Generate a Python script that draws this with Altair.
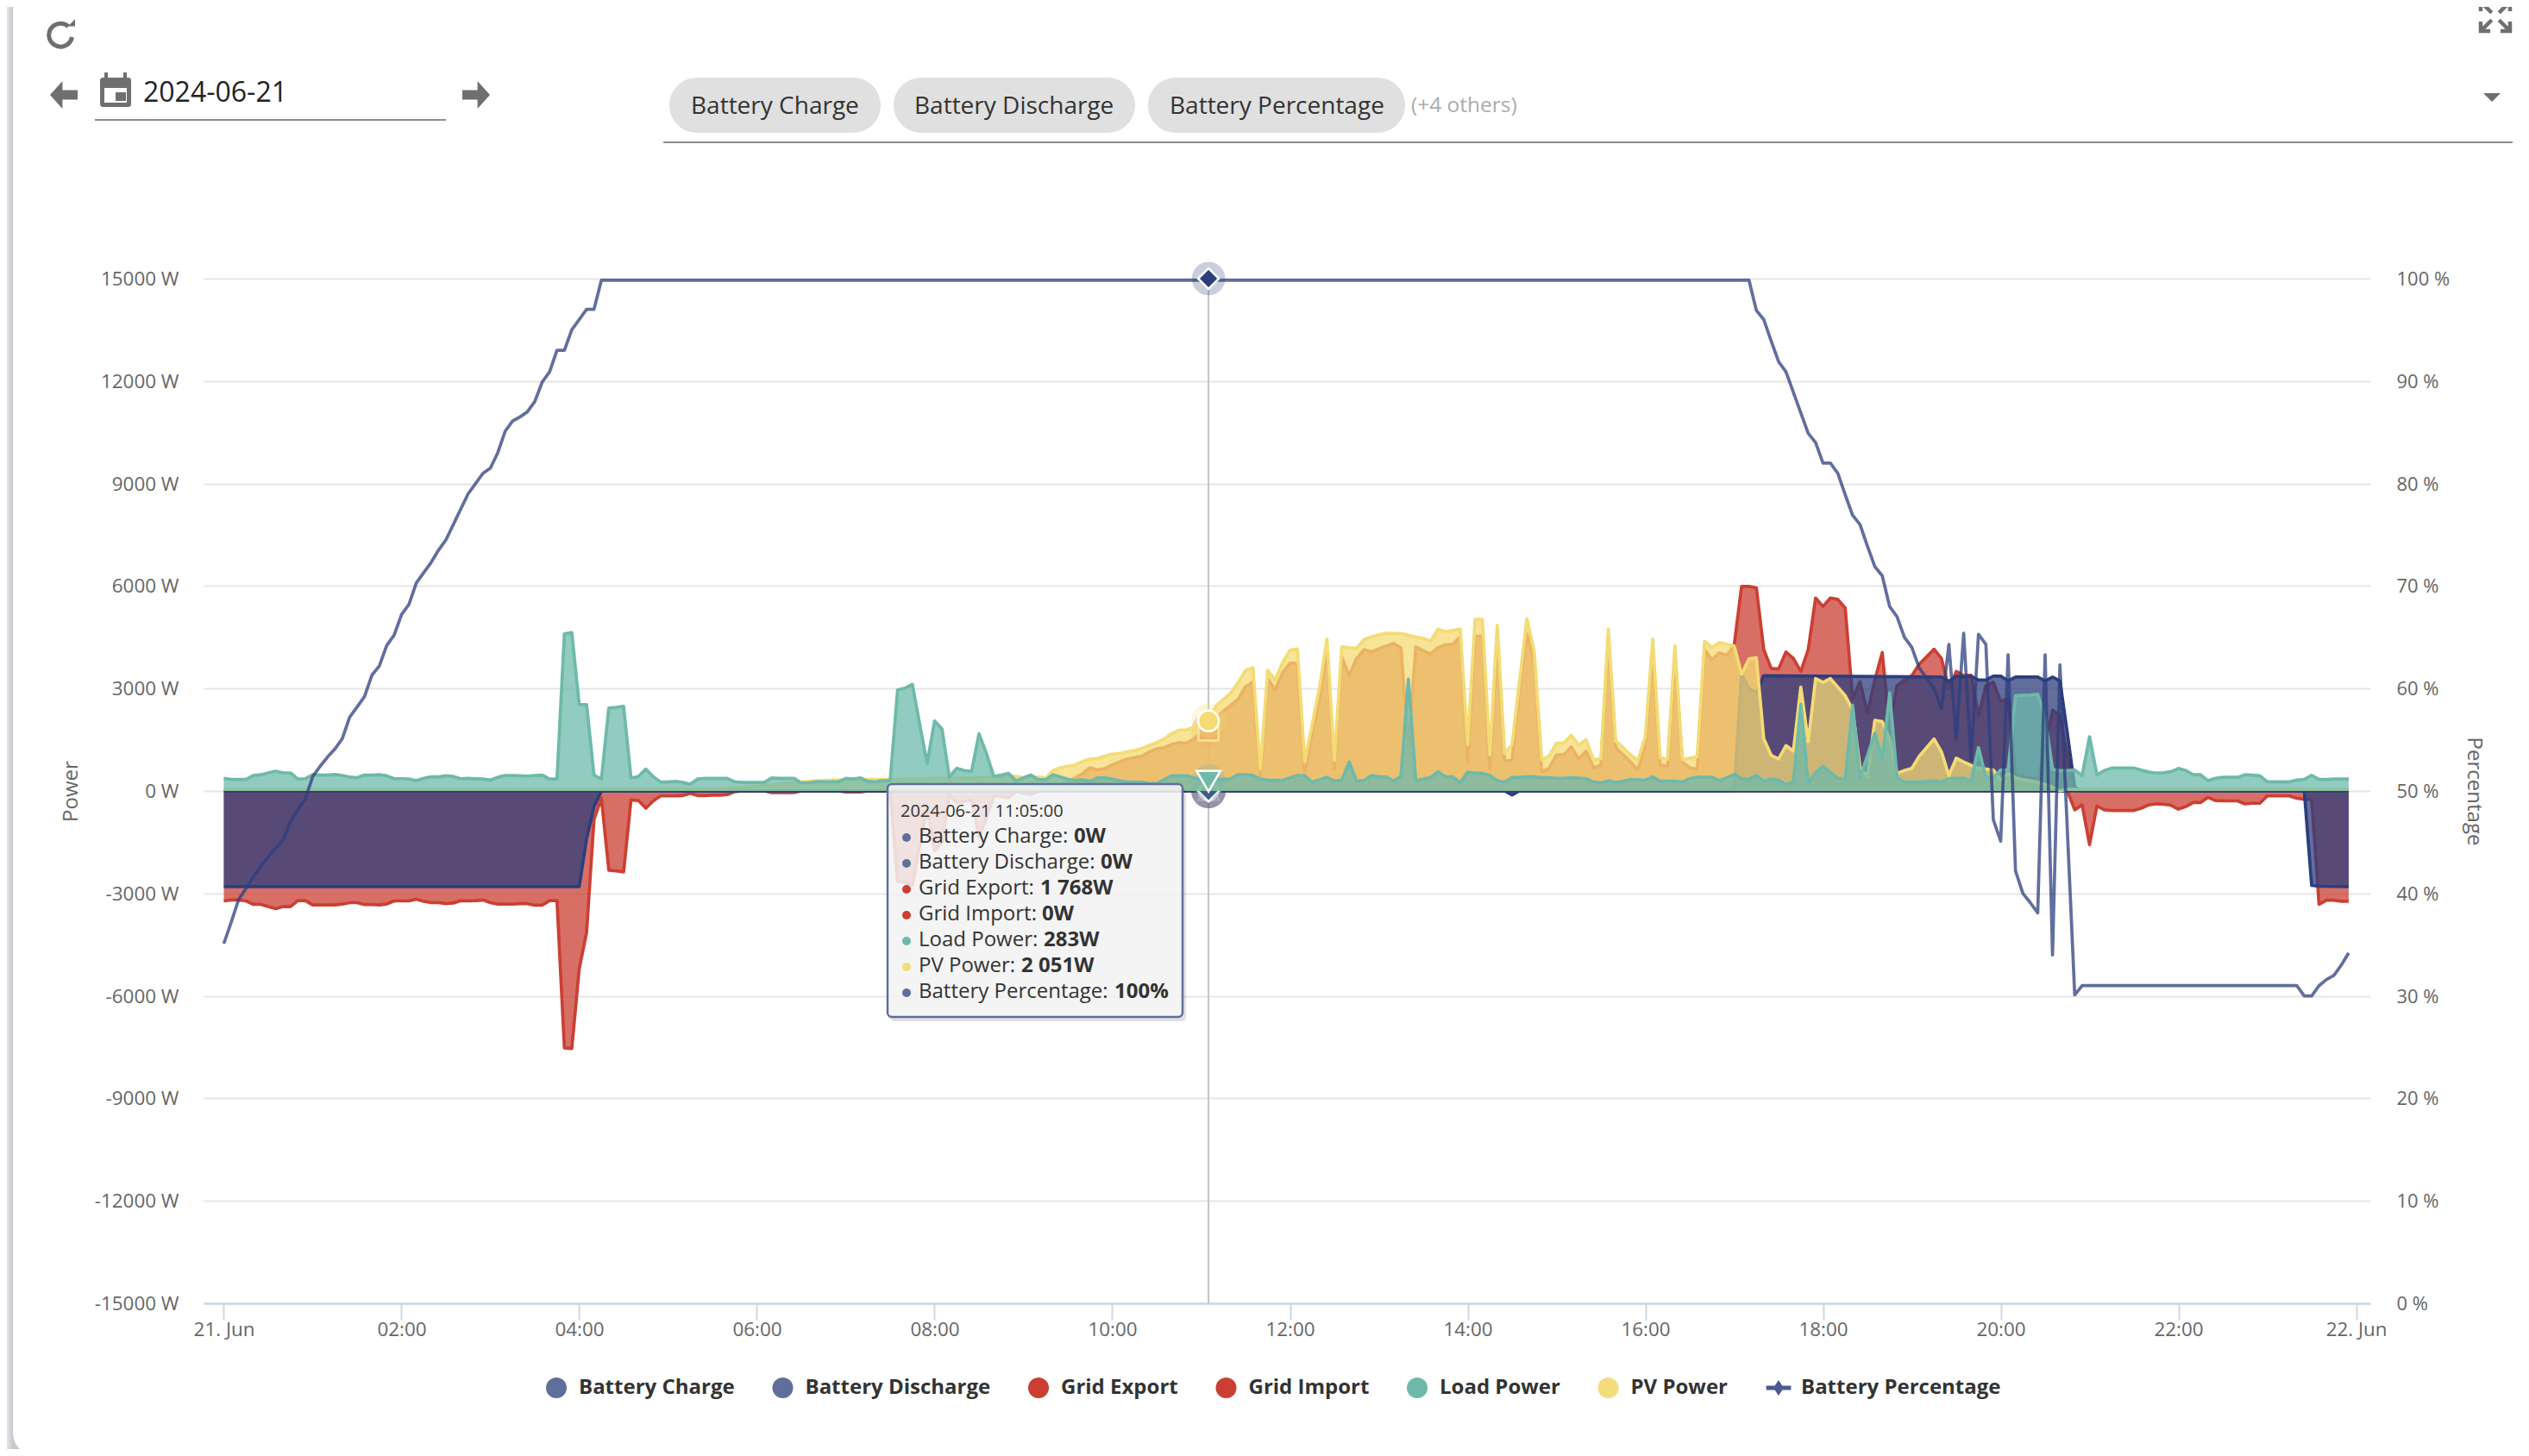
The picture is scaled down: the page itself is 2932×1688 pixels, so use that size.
import altair as alt

FONT = "Open Sans"
DAY0 = 1718928000000  # 2024-06-21 00:00 UTC
STEP = 300000  # five minutes

SERIES = ["Battery Charge", "Battery Discharge", "Grid Export", "Grid Import", "Load Power", "PV Power", "Battery Percentage"]
LEGEND_COLORS = ["#5F6F9B", "#5F6F9B", "#CB3F33", "#CB3F33", "#6EB9AA", "#F3DC7C", "#4A5B92"]
BATTERY = "#2C3E7D"
RED = "#CB3F33"
TEAL = "#6EB9AA"
YELLOW = "#F4DB74"

LOAD = [370,340,340,340,455,475,530,580,530,530,350,360,475,465,465,485,455,405,390,465,465,475,445,360,360,350,300,370,415,415,
445,425,360,370,360,350,320,400,455,455,445,435,455,465,350,350,4600,4640,2530,2530,465,350,2430,2450,2480,380,420,640,420,260,
260,280,250,200,350,370,370,370,370,270,250,250,250,250,380,370,370,370,240,240,270,270,270,270,370,350,380,280,270,300,
300,2960,3010,3120,1950,810,2050,1820,410,665,600,570,1675,1100,430,463,515,295,387,470,330,330,480,412,345,300,330,280,380,387,
345,300,260,260,260,220,220,330,445,445,445,390,330,283,345,345,360,480,480,455,345,320,310,310,387,455,446,260,330,404,
286,320,850,300,300,455,412,412,295,430,3275,300,345,395,570,412,412,245,555,515,520,455,303,260,395,404,412,412,387,387,
370,370,387,378,360,260,235,300,245,286,336,328,320,412,286,286,286,260,362,404,404,404,303,387,488,362,345,455,286,354,
311,194,260,2534,219,539,724,539,370,345,2510,387,1035,1692,935,2870,387,260,260,260,278,295,260,360,370,370,286,1270,387,387,
615,615,2785,2800,2810,2830,2155,640,600,600,615,455,1590,470,600,670,670,670,670,610,553,525,533,563,660,600,475,475,300,370,
400,400,400,475,465,445,270,270,270,270,320,340,455,340,340,350,350,350]

IMPORT_SLOTS = list(range(0, 111)) + [249] + list(range(250, 288))
IMPORT = [-3220,-3190,-3190,-3220,-3320,-3320,-3385,-3445,-3385,-3385,-3210,-3210,-3335,-3335,-3335,-3335,-3310,-3270,-3270,-3325,
-3325,-3335,-3310,-3220,-3220,-3220,-3170,-3230,-3270,-3270,-3300,-3280,-3210,-3220,-3210,-3190,-3270,-3310,-3310,-3310,-3300,-3300,-3345,-3345,-3210,-3210,
-7520,-7540,-5210,-4140,-840,-210,-2320,-2340,-2370,-260,-280,-505,-290,-145,-145,-145,-135,-70,-135,-135,-125,-125,-105,-20,
0,0,0,0,-50,-50,-50,-50,0,0,0,0,0,0,-30,-30,-30,0,0,0,0,-2650,-2680,-2770,-1600,-500,-1750,-1500,-120,-350,-300,-250,-1350,-800,-150,-150,-200,-20,-60,-100,0,
0,-553,-407,-1570,-436,-553,-570,-570,-570,-570,-504,-407,-378,-388,-417,-533,-456,-340,-340,-185,-280,-290,-290,-290,-378,-360,-360,-145,-145,-145,-145,-213,-242,-240,-3320,-3200,-3200,-3230,-3230,-3220]

EXPORT_SLOTS = [0, 112] + list(range(113, 251)) + [287]
EXPORT = [0,0,120,250,385,510,680,615,657,766,850,935,975,1020,1145,1230,1270,1355,1415,1400,1524,1692,1768,2150,2335,2510,2685,3050,3190,390,
3290,2955,3460,3740,3740,510,1685,2710,4090,640,3920,3375,3880,4135,4075,4160,4245,4320,4190,1280,4220,4110,4010,4200,4280,4300,4510,850,4530,4530,
640,4470,870,910,2950,4600,3800,555,665,1060,1060,1290,935,1170,680,750,4440,1270,1060,850,615,1350,4050,765,725,3880,850,680,640,4135,
3840,4050,3965,4260,5987,5987,5945,4135,3590,3570,4070,3880,3500,4135,5650,5400,5650,5610,5355,2700,3200,2280,3250,4050,1860,3080,3250,3375,3710,3930,
4150,3880,3000,3500,3375,3390,2200,3080,3190,2620,2700,510,430,390,345,1270,2365,2200,1020,0,0]

PV_SLOTS = [0, 66, 70, 75, 80, 85, 90, 104] + list(range(107, 249)) + [249, 287]
PV = [50,50,100,200,300,340,340,400,430,390,420,410,380,600,680,725,765,870,935,950,1020,1078,1100,1145,1187,1246,1330,1415,1524,1676,
1777,1793,1860,2030,2051,2492,2680,2870,3165,3530,3610,640,3530,3250,3755,4120,4160,850,1945,3040,4450,890,4220,4190,4175,4430,4510,4570,4620,4615,
4615,4555,4510,4470,4390,4740,4665,4700,4740,1355,5020,5020,1060,4850,1100,1355,3200,5045,4090,910,1020,1400,1400,1635,1340,1500,910,950,4740,1455,
1270,1060,890,1600,4445,977,935,4245,918,960,1000,4387,4200,4345,4300,4245,3420,3865,3900,1525,1045,935,1330,1170,3040,1440,3290,3180,3290,3040,
2790,2370,680,430,2070,2030,1525,515,600,665,1020,1270,1525,1145,455,960,850,750,665,640,615,330,515,385,330,300,260,195,110,10,50,50]

CHARGE_SLOTS = [0, 48, 49, 50, 51, 173, 174, 175, 281, 282, 283, 287]
CHARGE = [-2800,-2800,-1400,-460,0,0,-120,0,0,-2765,-2790,-2800]

DISCHARGE_SLOTS = [0, 204, 205, 206, 207, 208, 232, 233, 234, 235, 236, 237, 238, 239, 240, 241, 242, 245, 246, 247, 248, 249, 250, 251, 287]
DISCHARGE = [0,0,3420,3000,2870,3376,3335,3210,3360,3335,3360,3250,3250,3360,3360,3225,3335,3335,3225,3335,3225,1700,100,0,0]

PCT = [35.1,37.2,39.4,40.5,41.6,42.65,43.6,44.4,45.2,47.0,48.2,49.2,51.4,52.4,53.3,54.1,55.1,57.2,58.2,59.2,61.3,62.2,64.2,65.2,67.2,68.2,70.3,71.3,72.3,73.5,
74.5,76,77.5,79,80,81,81.5,83,85.1,86.1,86.5,87,88,89.9,90.9,93,93,95,96,97,97,99.85]
PCT_SLOTS = list(range(0, 52)) + [206, 207, 208, 209, 210, 211, 212, 213, 214, 215, 216, 217, 218, 219, 220, 221, 222, 223, 224, 225, 226, 227, 228, 229, 230, 231, 232, 233, 234, 235, 236, 237, 238, 239, 240, 241, 242, 243, 244, 245, 246, 247, 248, 250, 251, 280, 281, 282, 283, 284, 285, 286, 287]
PCT = PCT + [99.85,96.9,96,93.9,91.9,90.9,88.9,86.9,84.9,84,82,82,81,78.9,76.9,76,73.9,71.9,71,68,67,65,64,62,61,60,58,64.3,55.1,65.4,53,65.3,64.3,47.2,45.1,63.3,42.2,40,39.1,38.1,63.3,34,62.3,30.1,31,31,30,30,31,31.6,32,33,34.2]

TOOLTIP_HEAD = "2024-06-21 11:05:00"
TOOLTIP_NAMES = ["Battery Charge: ", "Battery Discharge: ", "Grid Export: ", "Grid Import: ", "Load Power: ", "PV Power: ", "Battery Percentage: "]
TOOLTIP_VALUES = ["0W", "0W", "1 768W", "0W", "283W", "2 051W", "100%"]
TOOLTIP_COLORS = ["#5F6F9B", "#5F6F9B", "#CB3F33", "#CB3F33", "#6EB9AA", "#F3DC7C", "#5F6F9B"]
HOVER_SLOT = 133

WIDTH, HEIGHT = 2512, 1188
PAD_L, PAD_T = 228, 315
TOTAL_W, TOTAL_H = 2916, 1672


def vx(px):
    return px - 8 - PAD_L


def vy(py):
    return py - 8 - PAD_T


ONE = alt.Data(values=[{"a": 1}])


def ms(slot):
    return DAY0 + slot * STEP


def frame(slots, values):
    return alt.Data(values=[{"t": ms(s), "v": v} for s, v in zip(slots, values)])


x_scale = alt.Scale(type="utc", domain=[DAY0 - 820800, DAY0 + 86976000], nice=False)
x_axis = alt.Axis(
    values=[DAY0 + h * 3600000 for h in range(0, 25, 2)],
    labelExpr="utchours(datum.value)==0 ? utcFormat(datum.value,'%d. %b') : utcFormat(datum.value,'%H:%M')",
    title=None, grid=False, tickSize=19, tickWidth=2, tickColor="#ccd6eb", domainColor="#ccd6eb", domainWidth=2.5,
    labelFont=FONT, labelFontSize=22.4, labelColor="#666666", labelPadding=0, labelOverlap=False, labelFlush=False, labelBaseline="top",
)
X = alt.X("t:T", scale=x_scale, axis=x_axis)

power_axis = alt.Axis(
    values=list(range(-15000, 15001, 3000)), labelExpr="datum.value + ' W'", title="Power", titleAngle=270, titleX=-154, titleY=594,
    titleFont=FONT, titleFontSize=24, titleFontWeight="normal", titleColor="#666666", titleAlign="center", titleBaseline="middle",
    grid=True, gridColor="#e6e6e6", gridWidth=2, domain=False, ticks=False, labelFont=FONT, labelFontSize=22.4, labelColor="#666666",
    labelPadding=29, labelOffset=0.5,
)
Y = alt.Y("v:Q", scale=alt.Scale(domain=[-15000, 15000], nice=False), axis=power_axis, stack=None)

pct_axis = alt.Axis(
    orient="right", values=list(range(0, 101, 10)), labelExpr="datum.value + ' %'", title="Percentage", titleAngle=90, titleX=119, titleY=594,
    titleFont=FONT, titleFontSize=24, titleFontWeight="normal", titleColor="#666666", titleAlign="center", titleBaseline="middle",
    grid=False, domain=False, ticks=False, labelFont=FONT, labelFontSize=22, labelColor="#666666", labelPadding=30, labelOffset=0.5,
)
Y_PCT = alt.Y("v:Q", scale=alt.Scale(domain=[0, 100], nice=False), axis=pct_axis)


def area(slots, values, color):
    d = frame(slots, values)
    return [
        alt.Chart(d).mark_area(color=color, opacity=0.75).encode(x=X, y=Y),
        alt.Chart(d).mark_line(color=color, strokeWidth=3.7, strokeJoin="round").encode(x=X, y=Y),
    ]


def marker(value, shape, color, size=576):
    d = frame([HOVER_SLOT], [value])
    return [
        alt.Chart(d).mark_point(shape="circle", filled=True, color=color, size=1600, opacity=0.25, strokeWidth=0).encode(x=X, y=Y),
        alt.Chart(d).mark_point(shape=shape, filled=True, fill=color, stroke="#ffffff", strokeWidth=2.5, size=size, opacity=1).encode(x=X, y=Y),
    ]


crosshair = alt.Chart(frame([HOVER_SLOT], [0])).mark_rule(color="#c4c4c4", strokeWidth=2).encode(x=X)

power_layers = [crosshair]
power_layers += area(EXPORT_SLOTS, EXPORT, RED) + marker(1768, "square", RED, 530)
power_layers += area(IMPORT_SLOTS, IMPORT, RED) + marker(0, "triangle-up", RED, 576)
power_layers += area(CHARGE_SLOTS, CHARGE, BATTERY) + marker(0, "circle", BATTERY, 500)
power_layers += area(DISCHARGE_SLOTS, DISCHARGE, BATTERY) + marker(0, "diamond", BATTERY, 600)
power_layers += area(PV_SLOTS, PV, YELLOW) + marker(2051, "circle", YELLOW, 576)
power_layers += area(list(range(288)), LOAD, TEAL) + marker(283, "triangle-down", TEAL, 760)
power = alt.layer(*power_layers)

pct_data = frame(PCT_SLOTS, PCT)
pct_hover = frame([HOVER_SLOT], [100])
pct = alt.layer(
    alt.Chart(pct_data).mark_line(color=BATTERY, strokeWidth=3.7, opacity=0.75, strokeJoin="round").encode(x=X, y=Y_PCT),
    alt.Chart(pct_hover).mark_point(shape="circle", filled=True, color=BATTERY, size=1500, opacity=0.25, strokeWidth=0).encode(x=X, y=Y_PCT),
    alt.Chart(pct_hover).mark_point(shape="diamond", filled=True, fill=BATTERY, stroke="#ffffff", strokeWidth=2.5, size=576, opacity=1).encode(x=X, y=Y_PCT),
)


def txt(s, x, y, size, color, weight="normal", align="left"):
    return alt.Chart(ONE).mark_text(text=s, font=FONT, fontSize=size, color=color, fontWeight=weight, align=align, baseline="middle").encode(
        x=alt.value(vx(x)), y=alt.value(vy(y)))


def box(x1, y1, x2, y2, color, **kw):
    return alt.Chart(ONE).mark_rect(color=color, **kw).encode(
        x=alt.value(vx(x1)), x2=alt.value(vx(x2)), y=alt.value(vy(y1)), y2=alt.value(vy(y2)))


def glyph(path, x, y, span, color, filled=True, width=0):
    kw = {"fill": color} if filled else {"stroke": color, "strokeWidth": width, "fillOpacity": 0}
    return alt.Chart(ONE).mark_point(shape=path, filled=filled, size=span * span, opacity=1, **kw).encode(
        x=alt.value(vx(x)), y=alt.value(vy(y)))


GRAY = "#6f6f6f"
ARROW_L = "M-1,0 L-0.1,-1 L-0.1,-0.35 L1,-0.35 L1,0.35 L-0.1,0.35 L-0.1,1 Z"
ARROW_R = "M1,0 L0.1,-1 L0.1,-0.35 L-1,-0.35 L-1,0.35 L0.1,0.35 L0.1,1 Z"
REFRESH = "M0.62,-0.62 A0.9,0.9 0 1 0 0.9,0.2"
REFRESH_HEAD = "M1,-1 L1,-0.05 L0.1,-0.05 Z"
EXPAND = ("M-1,-0.35 L-1,-1 L-0.35,-1 M-1,-1 L-0.25,-0.25 M1,-0.35 L1,-1 L0.35,-1 M1,-1 L0.25,-0.25 "
          "M-1,0.35 L-1,1 L-0.35,1 M-1,1 L-0.25,0.25 M1,0.35 L1,1 L0.35,1 M1,1 L0.25,0.25")
CARET = "M-1,-0.5 L1,-0.5 L0,0.5 Z"

page = [
    alt.Chart(ONE).mark_rect(color=alt.Gradient(gradient="linear", x1=0, x2=1, y1=0, y2=0, stops=[
        alt.GradientStop(color="#e4e5ea", offset=0), alt.GradientStop(color="#c4c6cc", offset=1)])).encode(
        x=alt.value(vx(8)), x2=alt.value(vx(15)), y=alt.value(vy(8)), y2=alt.value(vy(1680))),
    box(15, 1640, 60, 1680, "#c9cace"),
    box(15, 1630, 70, 1688, "#ffffff", cornerRadiusBottomLeft=30),
    glyph(REFRESH, 70, 40, 30, GRAY, False, 5),
    glyph(REFRESH_HEAD, 78, 31, 18, GRAY),
    glyph(ARROW_L, 74, 110, 32, GRAY),
    glyph(ARROW_R, 552, 110, 32, GRAY),
    box(116, 90, 152, 124, GRAY, cornerRadius=3),
    box(121, 84, 125, 92, GRAY),
    box(143, 84, 147, 92, GRAY),
    box(121, 102, 147, 119, "#ffffff"),
    box(134, 107, 146, 117, GRAY),
    txt("2024-06-21", 166, 108, 32, "#222222"),
    box(110, 138, 517, 140, "#8c8c8c"),
    box(776, 90, 1021, 154, "#e0e0e0", cornerRadius=32),
    box(1036, 90, 1316, 154, "#e0e0e0", cornerRadius=32),
    box(1331, 90, 1629, 154, "#e0e0e0", cornerRadius=32),
    txt("Battery Charge", 801, 124, 28, "#333333"),
    txt("Battery Discharge", 1060, 124, 28, "#333333"),
    txt("Battery Percentage", 1356, 124, 28, "#333333"),
    txt("(+4 others)", 1636, 123, 24.5, "#ababab"),
    box(769, 164, 2913, 166, "#8c8c8c"),
    glyph(CARET, 2889, 113, 20, GRAY),
    glyph(EXPAND, 2893, 19, 34, GRAY, False, 4.5),
]

legend_spec = alt.Legend(
    orient="none", legendX=vx(633), legendY=vy(1597), title=None, columns=7, symbolSize=576, symbolOpacity=1, symbolStrokeWidth=0,
    labelFont=FONT, labelFontSize=24, labelFontWeight="bold", labelColor="#333333", labelOffset=14, columnPadding=43.5, labelLimit=400,
)
legend_layer = alt.Chart(alt.Data(values=[{"series": s} for s in SERIES])).mark_point(filled=True, opacity=0).encode(
    x=alt.value(0), y=alt.value(0),
    color=alt.Color("series:N", sort=SERIES, scale=alt.Scale(domain=SERIES, range=LEGEND_COLORS), legend=legend_spec),
    shape=alt.Shape("series:N", sort=SERIES, legend=legend_spec, scale=alt.Scale(domain=SERIES, range=[
        "circle", "circle", "circle", "circle", "circle", "circle",
        "M-1.2,-0.2 L1.2,-0.2 L1.2,0.2 L-1.2,0.2 Z M0,-0.75 L0.5,0 L0,0.75 L-0.5,0 Z"])),
)

tooltip = [
    box(1032, 914, 1375, 1184, "#000000", opacity=0.12, cornerRadius=5),
    alt.Chart(ONE).mark_rect(fill="#f7f7f7", fillOpacity=0.86, stroke="#5F6F9B", strokeWidth=2.5, cornerRadius=5).encode(
        x=alt.value(vx(1029)), x2=alt.value(vx(1371)), y=alt.value(vy(909)), y2=alt.value(vy(1179))),
    txt(TOOLTIP_HEAD, 1044, 941, 20, "#333333"),
]
value_x = [1245, 1276, 1206, 1208, 1210, 1184, 1292]
for k in range(7):
    row_y = 970 + 30 * k
    tooltip.append(alt.Chart(ONE).mark_point(shape="circle", filled=True, fill=TOOLTIP_COLORS[k], size=100, opacity=1).encode(
        x=alt.value(vx(1051)), y=alt.value(vy(row_y + 1))))
    tooltip.append(txt(TOOLTIP_NAMES[k], 1065, row_y, 24, "#333333"))
    tooltip.append(txt(TOOLTIP_VALUES[k], value_x[k], row_y, 24, "#333333", weight="bold"))

chart = alt.layer(power, pct, legend_layer, *page, *tooltip).resolve_scale(y="independent").properties(
    width=WIDTH, height=HEIGHT,
    padding={"left": PAD_L, "top": PAD_T, "right": TOTAL_W - PAD_L - WIDTH, "bottom": TOTAL_H - PAD_T - HEIGHT},
    autosize=alt.AutoSizeParams(type="none"),
    background="#ffffff",
).configure_view(stroke=None)

chart.save("out.html", embed_options={"renderer": "svg", "actions": False})
